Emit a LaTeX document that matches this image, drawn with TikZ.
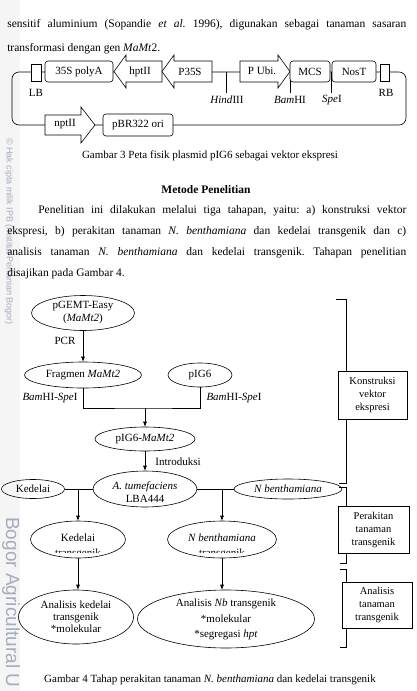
\documentclass[tikz,border=0pt]{standalone}
\usepackage{fontspec}
\setmainfont{Liberation Serif}
\newfontfamily\wmfont{Liberation Sans}
\usepackage{tikz}
\usetikzlibrary{shapes.geometric}
\usetikzlibrary{arrows.meta}
\definecolor{wmgray}{RGB}{165,172,188}
\frenchspacing

\begin{document}
\begin{tikzpicture}[x=1pt, y=-1pt, line width=0.6pt,
    txt/.style={inner sep=0pt, font=\fontsize{11}{13}\selectfont},
    body/.style={inner sep=0pt, anchor=base west, font=\fontsize{11.5}{14}\selectfont},
    ell/.style={draw, ellipse, inner sep=0pt, align=center, font=\fontsize{11}{13}\selectfont},
    stagebox/.style={draw, rectangle, inner sep=0pt, align=center, font=\fontsize{10.5}{13}\selectfont},
    rbox/.style={draw, fill=white, rounded corners=3pt, inner sep=0pt, minimum height=21pt, font=\fontsize{11}{13}\selectfont},
    arr/.style={-{Latex[length=5pt, width=4pt]}},
    wm/.style={inner sep=0pt, text=wmgray, rotate=-90, anchor=west}]
    \useasboundingbox (0,0) rectangle (416,691);

    % draw watermark strip
    \fill[black!4] (0,0) rectangle (20,691);
    \node[wm, font=\wmfont\fontsize{9}{9}\selectfont] (wmhak) at (9,138) {© Hak cipta milik IPB (Institut Pertanian Bogor)};
    \node[wm, font=\wmfont\fontsize{19}{19}\selectfont] (wmbogor) at (11,517) {Bogor Agricultural U};

    % draw page text
    \node[body] (l1) at (7,27) {\makebox[399pt][s]{sensitif aluminium (Sopandie \textit{et al.}\ 1996), digunakan sebagai tanaman sasaran}};
    \node[body] (l2) at (7,51) {transformasi dengan gen \textit{MaMt}2.};
    \node[body, anchor=base, font=\fontsize{11}{13}\selectfont] (cap3) at (210,158) {Gambar 3 Peta fisik plasmid pIG6 sebagai vektor ekspresi};
    \node[body, anchor=base, font=\fontsize{11.5}{14}\selectfont\bfseries] (head) at (206,193) {Metode Penelitian};
    \node[body] (p1) at (38,213) {\makebox[368pt][s]{Penelitian ini dilakukan melalui tiga tahapan, yaitu: a) konstruksi vektor}};
    \node[body] (p2) at (7,234) {\makebox[399pt][s]{ekspresi, b) perakitan tanaman \textit{N. benthamiana} dan kedelai transgenik dan c)}};
    \node[body] (p3) at (7,255) {\makebox[399pt][s]{analisis tanaman \textit{N. benthamiana} dan kedelai transgenik. Tahapan penelitian}};
    \node[body] (p4) at (7,276) {disajikan pada Gambar 4.};
    \node[body, anchor=base, font=\fontsize{11}{13}\selectfont] (cap4) at (210,682) {Gambar 4 Tahap perakitan tanaman \textit{N. benthamiana} dan kedelai transgenik};

    % draw plasmid backbone
    \draw[rounded corners=7pt] (12,72) rectangle (406,125);
    % draw restriction sites
    \draw (226,72) -- (226,93);
    \draw (290,72) -- (290,93);
    \draw (331,72) -- (331,93);
    \node[txt] (hind) at (227,100) {\textit{Hind}III};
    \node[txt] (bam) at (290,100) {\textit{Bam}HI};
    \node[txt] (spe) at (332,100) {\textit{Spe}I};
    % draw border boxes
    \draw[fill=white] (31,64) rectangle (41,81);
    \draw[fill=white] (380,64) rectangle (389,81);
    \node[txt] (lb) at (36,93) {LB};
    \node[txt] (rb) at (386,93) {RB};
    % draw T-DNA genes
    \node[rbox, minimum width=68pt] (polya) at (79,71.5) {35S polyA};
    \draw[fill=white] (114,71.5) -- (126,55) -- (126,61) -- (162,61) -- (162,82) -- (126,82) -- (126,88) -- cycle;
    \node[txt] (hpt) at (140,71.5) {hptII};
    \draw[fill=white] (162,71.5) -- (174,55) -- (174,61) -- (212,61) -- (212,82) -- (174,82) -- (174,88) -- cycle;
    \node[txt] (p35s) at (190,71.5) {P35S};
    \draw[fill=white] (240,61) -- (278,61) -- (278,55) -- (290,71.5) -- (278,88) -- (278,82) -- (240,82) -- cycle;
    \node[txt] (pubi) at (262,70.5) {P Ubi.};
    \node[rbox, minimum width=40pt] (mcs) at (310,71.5) {MCS};
    \node[rbox, minimum width=44pt] (nost) at (354,71.5) {NosT};
    % draw backbone genes
    \draw[fill=white] (45,115) -- (81,115) -- (81,107) -- (95,125) -- (81,143) -- (81,135) -- (45,135) -- cycle;
    \node[txt] (npt) at (65,124.5) {nptII};
    \node[rbox, minimum width=70pt, minimum height=22pt] (ori) at (138,125) {pBR322 ori};

    % draw flow nodes
    \node[ell, minimum width=103pt, minimum height=35pt] (pgemt) at (83,313) {pGEMT-Easy\\(\textit{MaMt2})};
    \node[ell, minimum width=117pt, minimum height=26pt] (fragmen) at (83,375) {Fragmen \textit{MaMt2}};
    \node[ell, minimum width=64pt, minimum height=24pt] (pig) at (200,375) {pIG6};
    \node[ell, minimum width=100pt, minimum height=24pt] (pigmamt) at (145,439) {pIG6-\textit{MaMt2}};
    \node[ell, minimum width=104pt, minimum height=36pt] (atum) at (145,489) {};
    \node[ell, minimum width=63pt, minimum height=19pt] (kedelai) at (33,489) {Kedelai};
    \node[ell, minimum width=108pt, minimum height=20pt] (nbenth) at (288,489) {\textit{N benthamiana}};
    \node[ell, minimum width=95pt, minimum height=37pt] (kedtrans) at (78,539.5) {};
    \node[ell, minimum width=109pt, minimum height=37pt] (nbtrans) at (222,539.5) {};
    \node[ell, minimum width=115pt, minimum height=54pt, font=\fontsize{11}{12}\selectfont] (anked) at (76,617) {Analisis kedelai\\transgenik\\*molekular};
    \node[ell, minimum width=177pt, minimum height=58pt] (annb) at (226,619) {};

    % text cut by the box inside the ellipse
    \begin{scope}
      \clip (atum.center) ++(-37,-12.7) rectangle ++(74,25.4);
      \node[txt] at ([shift={(0,-2)}]atum.center) {\textit{A. tumefaciens}};
      \node[txt] at ([shift={(0,10)}]atum.center) {LBA444};
    \end{scope}
    \begin{scope}
      \clip (kedtrans.center) ++(-33,-13.1) rectangle ++(66,26.2);
      \node[txt] at ([shift={(0,-1.5)}]kedtrans.center) {Kedelai};
      \node[txt] at ([shift={(0,14.5)}]kedtrans.center) {transgenik};
    \end{scope}
    \begin{scope}
      \clip (nbtrans.center) ++(-38,-13.1) rectangle ++(76,26.2);
      \node[txt] at ([shift={(0,-1.5)}]nbtrans.center) {\textit{N benthamiana}};
      \node[txt] at ([shift={(0,14.5)}]nbtrans.center) {transgenik};
    \end{scope}
    \begin{scope}
      \clip (annb.center) ++(-62,-20.5) rectangle ++(124,41);
      \node[txt] at ([shift={(0,-15)}]annb.center) {Analisis \textit{Nb} transgenik};
      \node[txt] at (annb.center) {*molekular};
      \node[txt] at ([shift={(0,16)}]annb.center) {*segregasi \textit{hpt}};
    \end{scope}

    % draw connectors
    \draw[arr] (pgemt) -- (fragmen);
    \node[txt] (pcr) at (65,341) {PCR};
    \coordinate (join) at (145,408);
    \draw (fragmen.south) |- (join) -| (pig.south);
    \draw[arr] (join) -- (pigmamt);
    \node[txt] (cutl) at (50,398) {\textit{Bam}HI-\textit{Spe}I};
    \node[txt] (cutr) at (234,398) {\textit{Bam}HI-\textit{Spe}I};
    \draw[arr] (pigmamt) -- (atum);
    \node[txt] (intro) at (178,462) {Introduksi};
    \draw (kedelai) -- (atum);
    \draw (atum) -- (nbenth);
    \draw[arr] (kedtrans.north |- atum.west) -- (kedtrans);
    \draw[arr] (nbtrans.north |- atum.east) -- (nbtrans);
    \draw[arr] (kedtrans) -- (kedtrans.south |- anked.north);
    \draw[arr] (nbtrans) -- (nbtrans.south |- annb.north);

    % draw stage boxes and brackets
    \node[stagebox, minimum width=69pt, minimum height=48pt] (kons) at (372.5,395) {Konstruksi\\vektor\\ekspresi};
    \node[stagebox, minimum width=71pt, minimum height=47pt] (pera) at (373.5,529.5) {Perakitan\\tanaman\\transgenik};
    \node[stagebox, minimum width=70pt, minimum height=46pt] (ana) at (377,605) {Analisis\\tanaman\\transgenik};
    \coordinate (bx) at (346,0);
    \coordinate (top1) at (336,299);
    \coordinate (end1) at (339,483);
    \coordinate (top2) at (339,487);
    \coordinate (end2) at (340,563);
    \coordinate (top3) at (340,569);
    \coordinate (end3) at (340,647);
    \draw (top1) -| (kons.north -| bx);
    \draw (kons.south -| bx) |- (end1);
    \draw (top2) -| (pera.north -| bx);
    \draw (pera.south -| bx) |- (end2);
    \draw (top3) -| (ana.north -| bx);
    \draw (ana.south -| bx) |- (end3);
\end{tikzpicture}
\end{document}
